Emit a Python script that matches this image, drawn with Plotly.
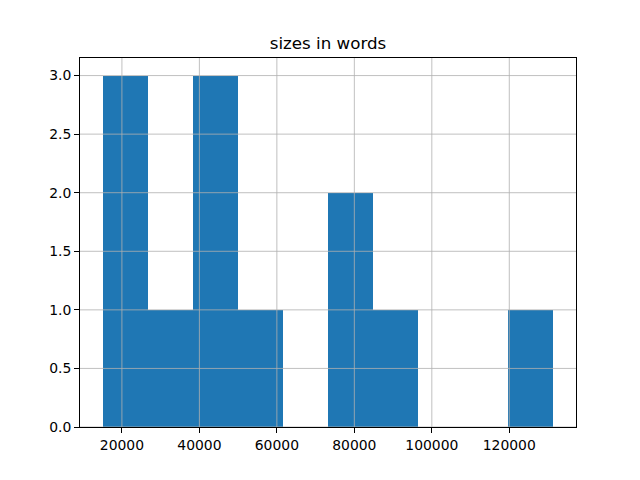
import plotly.graph_objects as go

bin_edges = [15000, 26640, 38280, 49920, 61560, 73200, 84840, 96480, 108120, 119760, 131400]
counts = [3, 1, 3, 1, 0, 2, 1, 0, 0, 1]
x_ticks = [20000, 40000, 60000, 80000, 100000, 120000]
y_ticks = [0.0, 0.5, 1.0, 1.5, 2.0, 2.5, 3.0]

centers = [(a + b) / 2 for a, b in zip(bin_edges[:-1], bin_edges[1:])]
widths = [b - a for a, b in zip(bin_edges[:-1], bin_edges[1:])]

span = bin_edges[-1] - bin_edges[0]
xr = [bin_edges[0] - 0.05 * span, bin_edges[-1] + 0.05 * span]
yr = [0, max(counts) * 1.05]

fig = go.Figure(go.Bar(x=centers, y=counts, width=widths, marker=dict(color="#1f77b4", line=dict(width=0))))

shapes = []
for t in x_ticks:
    shapes.append(dict(type="line", xref="x", yref="paper", x0=t, x1=t, y0=0, y1=1,
                       line=dict(color="#b0b0b0", width=0.8), layer="above"))
for t in y_ticks:
    shapes.append(dict(type="line", xref="paper", yref="y", x0=0, x1=1, y0=t, y1=t,
                       line=dict(color="#b0b0b0", width=0.8), layer="above"))

fig.update_layout(
    width=640, height=480,
    paper_bgcolor="white", plot_bgcolor="white",
    margin=dict(l=72, r=72, t=49.6, b=60.8),
    font=dict(family="DejaVu Sans", size=13.9, color="black"),
    title=dict(text="sizes in words", x=0.5, xref="paper", xanchor="center",
               y=1 - 35 / 480, yanchor="middle", font=dict(size=16.7)),
    showlegend=False,
    bargap=0,
    shapes=shapes,
)
fig.update_xaxes(range=xr, tickvals=x_ticks, ticktext=[str(t) for t in x_ticks],
                 showgrid=False, zeroline=False, showline=True, linecolor="black", linewidth=1,
                 mirror=True, ticks="outside", ticklen=4.9, tickwidth=1, tickcolor="black")
fig.update_yaxes(range=yr, tickvals=y_ticks, ticktext=[f"{t:.1f}" for t in y_ticks],
                 showgrid=False, zeroline=False, showline=True, linecolor="black", linewidth=1,
                 mirror=True, ticks="outside", ticklen=4.9, tickwidth=1, tickcolor="black")

fig.write_html("out.html")
